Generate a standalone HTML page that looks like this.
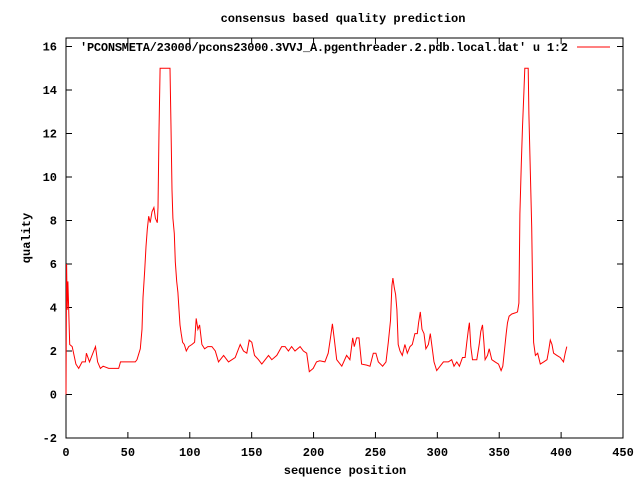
<!DOCTYPE html>
<html><head><meta charset="utf-8"><style>
body{margin:0;background:#fff}
svg text{font-family:"Liberation Mono",monospace;font-weight:bold;font-size:12px;fill:#000}
</style></head><body>
<svg width="640" height="480" viewBox="0 0 640 480">
<rect width="640" height="480" fill="#fff"/>
<text x="343" y="22" text-anchor="middle">consensus based quality prediction</text>
<g id="axes"></g>
<rect x="66" y="38" width="557" height="400" fill="none" stroke="#000" stroke-width="1"/>
<text x="568" y="51" text-anchor="end" textLength="488">'PCONSMETA/23000/pcons23000.3VVJ_A.pgenthreader.2.pdb.local.dat' u 1:2</text>
<line x1="577" y1="47" x2="610" y2="47" stroke="#f00" stroke-width="1"/>
<polyline id="series" fill="none" stroke="#f00" stroke-width="1"/>
<text x="345" y="474" text-anchor="middle">sequence position</text>
<text transform="translate(30,238) rotate(-90)" text-anchor="middle">quality</text>
</svg>
<script>
const xTicks=[0,50,100,150,200,250,300,350,400,450];
const yTicks=[-2,0,2,4,6,8,10,12,14,16];
const positions=[0,0.5,1,1.5,3,5,8,10.3,13,15.7,16.5,19,21,23.8,25.5,27.8,30,34.5,38,42.6,44,48,52,56,57.4,60,61.4,62.2,63.6,64.6,65.7,66.8,68,69.5,71,72.2,73.8,74.3,75.1,76,84,84.8,85.6,86.4,87.5,88.3,89.4,90.4,91.3,92.1,93.1,94.2,95.6,97.2,99.1,101.7,103.9,105.2,106.6,107.9,109.8,112,114.6,117.9,120.6,123.2,127.3,131.3,136.7,140.7,143.4,146.1,148,150.1,152.3,155.5,158.2,160.9,163.6,166.3,170.3,174.3,177,179.7,182.3,185,189.1,191.8,194.5,196.6,199.7,202.4,205,209.2,211.8,213.8,215.2,216.8,218.7,222.8,226.7,229.4,231.6,232.9,234.8,236.7,238.8,242.9,245.6,248.3,250.4,252.3,255.8,258.5,260.4,262.2,263.3,264.1,265.2,266.3,267.3,268.4,269.8,271.7,273.8,275.7,277.9,279.8,281.9,283.8,284.9,286.2,287.6,289.2,290.8,292.8,294.3,295.7,297.3,299.5,302.2,304.9,308.9,311.6,313.5,315.7,317.8,320.3,322.4,323.8,325.1,325.9,327,328.4,331.9,333.8,335.1,336.5,337.6,338.6,340.5,341.9,344,346.7,349.4,351.5,352.9,354.2,355.6,356.7,358,360.2,362.9,364.8,365.9,366.7,367.8,368.8,369.9,370.7,373.4,374,375.1,376.2,377,377.8,379.2,381.1,383.2,385.9,388.6,389.9,391.3,392.6,393.9,396.6,399.3,401.9,403.3,404.6];
const values=[0,6,3.9,5.2,2.3,2.2,1.4,1.2,1.5,1.5,1.9,1.5,1.8,2.2,1.5,1.2,1.3,1.2,1.2,1.2,1.5,1.5,1.5,1.5,1.6,2.1,3.0,4.45,5.7,6.8,7.6,8.2,7.9,8.4,8.6,8.1,7.9,8.6,12.1,15,15,12.3,9.4,8.1,7.4,6.1,5.2,4.7,3.9,3.2,2.8,2.4,2.3,2.0,2.2,2.3,2.4,3.5,3.0,3.2,2.3,2.1,2.2,2.2,2.0,1.5,1.8,1.5,1.7,2.3,2.0,1.9,2.5,2.4,1.8,1.6,1.4,1.6,1.8,1.6,1.8,2.2,2.2,2.0,2.2,2.0,2.2,2.0,1.9,1.05,1.2,1.5,1.55,1.5,1.9,2.65,3.25,2.5,1.6,1.3,1.8,1.6,2.6,2.2,2.6,2.6,1.4,1.35,1.3,1.9,1.9,1.5,1.3,1.5,2.4,3.4,5.0,5.35,4.9,4.6,3.9,2.3,2.0,1.8,2.3,1.9,2.2,2.3,2.8,2.8,3.3,3.8,3.0,2.8,2.1,2.3,2.8,2.2,1.5,1.1,1.3,1.5,1.5,1.6,1.3,1.5,1.3,1.7,1.7,2.4,3.0,3.3,2.2,1.6,1.6,2.3,2.9,3.2,2.4,1.6,1.8,2.1,1.6,1.5,1.4,1.1,1.3,2.0,2.8,3.3,3.6,3.7,3.75,3.8,4.2,8.3,10.6,12.3,13.9,15,15,12.9,10.3,7.7,4.9,2.4,1.8,1.9,1.4,1.5,1.6,2.0,2.5,2.3,1.9,1.8,1.7,1.5,1.9,2.2];
const X=v=>66+v*557/450;
const Y=v=>394.5-v*21.75;
const NS='http://www.w3.org/2000/svg';
const axes=document.getElementById('axes');
function mk(tag,attrs,text){const e=document.createElementNS(NS,tag);for(const k in attrs)e.setAttribute(k,attrs[k]);if(text!==undefined)e.textContent=text;axes.appendChild(e);return e;}
xTicks.forEach(t=>{
  const x=X(t);
  const a=mk('line',{x1:x,y1:438,x2:x,y2:432,stroke:'#000'});
  
  
  const b=mk('line',{x1:x,y1:38,x2:x,y2:44,stroke:'#000'});
  
  
  const l=mk('text',{x:x,y:456,'text-anchor':'middle'},String(t));
  
  
});
yTicks.forEach(t=>{
  const y=Y(t);
  const a=mk('line',{x1:66,y1:y,x2:72,y2:y,stroke:'#000'});
  
  
  const b=mk('line',{x1:623,y1:y,x2:617,y2:y,stroke:'#000'});
  
  
  const l=mk('text',{x:57,y:y+4,'text-anchor':'end'},String(t));
  
  
});
document.getElementById('series').setAttribute('points',positions.map((p,i)=>X(p).toFixed(1)+','+Y(values[i]).toFixed(1)).join(' '));
</script>
</body></html>
